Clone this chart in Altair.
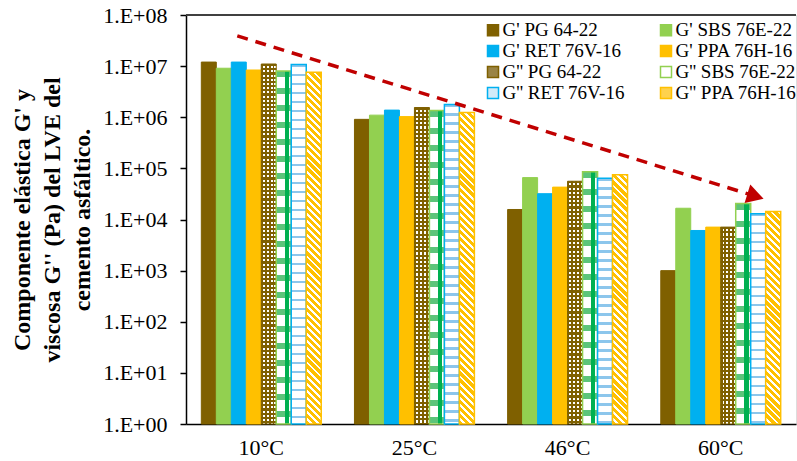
import math
import altair as alt
import pandas as pd

# ---------------- data ----------------
temps = ["10°C", "25°C", "46°C", "60°C"]
series = ["G' PG 64-22", "G' SBS 76E-22", "G' RET 76V-16", "G' PPA 76H-16",
          "G'' PG 64-22", "G'' SBS 76E-22", "G'' RET 76V-16", "G'' PPA 76H-16"]

g1_pg = [1.2e7, 9.1e5, 1.57e4, 1.0e3]
g1_sbs = [9.1e6, 1.1e6, 6.6e4, 1.66e4]
g1_ret = [1.2e7, 1.38e6, 3.2e4, 6.1e3]
g1_ppa = [8.4e6, 1.03e6, 4.3e4, 7.1e3]
g2_pg = [1.1e7, 1.55e6, 5.6e4, 7.1e3]
g2_sbs = [8.0e6, 1.35e6, 8.6e4, 2.05e4]
g2_ret = [1.07e7, 1.78e6, 6.4e4, 1.3e4]
g2_ppa = [7.6e6, 1.24e6, 7.5e4, 1.44e4]
values = [g1_pg, g1_sbs, g1_ret, g1_ppa, g2_pg, g2_sbs, g2_ret, g2_ppa]

y_ticks = [1, 1e1, 1e2, 1e3, 1e4, 1e5, 1e6, 1e7, 1e8]
y_title = ["Componente elástica G' y", "viscosa G'' (Pa) del LVE del", "cemento asfáltico."]

# trend arrow (annotation) : start / end category and value
arrow_start_temp = ["10°C"]
arrow_end_temp = ["60°C"]
arrow_start_value = [3.9e7]
arrow_end_value = [3.0e4]
arrow_head_value = [2.85e4]

# ---------------- styles ----------------
fill_colors = ["#7f6000", "#92d050", "#00b0f0", "#ffc000",
               "#9a8445", "#ffffff", "#d3eaf8", "#ffd24d"]
stroke_colors = ["#7f6000", "#92d050", "#00b0f0", "#ffc000",
                 "#7f6000", "#92d050", "#00b0f0", "#ffc000"]
# legend fills column by column -> order so rows read like the reference
legend_order = [series[k] for k in (0, 2, 4, 6, 1, 3, 5, 7)]
legend_fill = [fill_colors[series.index(s)] for s in legend_order]
legend_stroke = [stroke_colors[series.index(s)] for s in legend_order]

FONT = "Liberation Serif"
W, H = 610, 409
PAD_L, PAD_T = 186, 15
P_IN, P_OUT = 0.217, 0.1
bar_px = W / (len(temps) - P_IN + 2 * P_OUT) * (1 - P_IN) / len(series)

rows = []
for s, vals in zip(series, values):
    for t, v in zip(temps, vals):
        rows.append({"Temp": t, "Serie": s, "Valor": v})
df = pd.DataFrame(rows)

arrow_df = pd.DataFrame({"Temp": arrow_start_temp, "Temp2": arrow_end_temp,
                         "Valor": arrow_start_value, "Valor2": arrow_end_value,
                         "Head": arrow_head_value})
top_df = pd.DataFrame({"Valor": [y_ticks[-1]]})

CLEAR = "rgba(255,255,255,0)"


def stripe_stops(n, c1, c2, frac):
    stops = []
    k = 0
    while k < n:
        a = k / n
        b = min((k + frac) / n, 1.0)
        c = min((k + 1) / n, 1.0)
        stops.append({"offset": round(a, 5), "color": c1})
        stops.append({"offset": round(b, 5), "color": c1})
        if b < 1.0:
            stops.append({"offset": round(b, 5), "color": c2})
            stops.append({"offset": round(c, 5), "color": c2})
        k += 1
    return stops


def grad_v(n, c1, c2, frac):  # horizontal stripes (vary along y)
    return {"gradient": "linear", "x1": 0, "y1": 0, "x2": 0, "y2": 1,
            "stops": stripe_stops(n, c1, c2, frac)}


def grad_h(stops):  # vertical stripes (vary along x)
    return {"gradient": "linear", "x1": 0, "y1": 0, "x2": 1, "y2": 0, "stops": stops}


def grad_diag(h_px, period, c1, c2, frac):
    r = h_px / bar_px
    a = (1 + r) / (1 + r * r)
    n = (bar_px + h_px) / math.sqrt(2) / period
    return {"gradient": "linear", "x1": 0, "y1": 1, "x2": round(a, 6),
            "y2": round(1 - a * r, 6), "stops": stripe_stops(n, c1, c2, frac)}


x_enc = alt.X("Temp:N", scale=alt.Scale(domain=temps, paddingInner=P_IN, paddingOuter=P_OUT),
              axis=alt.Axis(title=None, ticks=False, labelAngle=0, labelFontSize=22,
                            labelPadding=13, domainColor="black", domainWidth=1.5,
                            labelColor="black", labelFont=FONT))
xo_enc = alt.XOffset("Serie:N", scale=alt.Scale(domain=series))
y_enc = alt.Y("Valor:Q", stack=None, scale=alt.Scale(type="log", domain=[1, 1e8]),
              axis=alt.Axis(values=y_ticks, labelExpr="'1.E+0' + round(log(datum.value)/LN10)",
                            title=y_title, titleFont=FONT, titleFontSize=24,
                            titleFontWeight="bold", titleColor="black", titleLineHeight=30,
                            titlePadding=8, labelFont=FONT, labelFontSize=22,
                            labelColor="black", labelPadding=13, tickSize=6,
                            tickColor="black", tickWidth=1.5, domainColor="black",
                            domainWidth=1.5, grid=False))
y2_enc = alt.datum(y_ticks[0])

legend = alt.Legend(title=None, orient="none", legendX=297.5, legendY=5.5, columns=2,
                    symbolType="square", symbolSize=121, symbolStrokeWidth=1.5,
                    labelFont=FONT, labelFontSize=19, labelColor="black", labelLimit=400,
                    rowPadding=1, columnPadding=31, labelOffset=0, padding=0)

base = alt.Chart()

layers = []
# G' solid bars (carry the legend)
layers.append(
    base.transform_filter(alt.FieldOneOfPredicate(field="Serie", oneOf=series[:4]))
    .mark_bar(strokeWidth=1)
    .encode(x=x_enc, xOffset=xo_enc, y=y_enc, y2=y2_enc,
            fill=alt.Fill("Serie:N", scale=alt.Scale(domain=legend_order, range=legend_fill), legend=legend),
            stroke=alt.Stroke("Serie:N", scale=alt.Scale(domain=legend_order, range=legend_stroke), legend=legend))
)

# G'' patterned bars
for j in range(4, 8):
    s = series[j]
    for i, t in enumerate(temps):
        v = values[j][i]
        h_px = math.log10(v) * H / 8
        sub = base.transform_filter(alt.FieldEqualPredicate(field="Serie", equal=s)) \
                  .transform_filter(alt.FieldEqualPredicate(field="Temp", equal=t))
        enc = dict(x=x_enc, xOffset=xo_enc, y=y_enc, y2=y2_enc)
        if j == 4:  # PG: brown / white checker
            g1 = grad_v(h_px / 4.2, "#7f6000", "#ffffff", 0.5)
            g2 = grad_h(stripe_stops(bar_px / 3.75, "#7f6000", CLEAR, 0.5))
            layers.append(sub.mark_bar(fill=g1, strokeWidth=0).encode(**enc))
            layers.append(sub.mark_bar(fill=g2, stroke="#7f6000", strokeWidth=1).encode(**enc))
        elif j == 5:  # SBS: green checker bands + green vertical stripe
            g1 = grad_v(h_px / 17.0, "#5cc47a", "#ffffff", 0.35)
            g2 = grad_h([{"offset": 0, "color": CLEAR}, {"offset": 0.58, "color": CLEAR},
                         {"offset": 0.58, "color": "#00b050"}, {"offset": 0.86, "color": "#00b050"},
                         {"offset": 0.86, "color": CLEAR}, {"offset": 1, "color": CLEAR}])
            layers.append(sub.mark_bar(fill=g1, strokeWidth=0).encode(**enc))
            layers.append(sub.mark_bar(fill=g2, stroke="#92d050", strokeWidth=1.5).encode(**enc))
        elif j == 6:  # RET: light blue waves on white
            g1 = grad_v(h_px / 9.0, "#8cc6ec", "#ffffff", 0.3)
            layers.append(sub.mark_bar(fill=g1, stroke="#00b0f0", strokeWidth=1.5).encode(**enc))
        else:  # PPA: diagonal yellow / white stripes
            g1 = grad_diag(h_px, 5.0, "#ffc000", "#ffffff", 0.6)
            layers.append(sub.mark_bar(fill=g1, stroke="#ffc000", strokeWidth=1.5).encode(**enc))

# top frame line at the axis maximum
layers.append(alt.Chart(top_df).mark_rule(color="#404040", strokeWidth=2).encode(y=alt.Y("Valor:Q")))

# red dashed trend arrow
layers.append(
    alt.Chart(arrow_df).mark_rule(color="#c00000", strokeWidth=3.5, strokeDash=[11, 8], strokeCap="butt")
    .encode(x=alt.X("Temp:N", bandPosition=0.30), x2=alt.X2("Temp2", bandPosition=0.76),
            y=alt.Y("Valor:Q"), y2=alt.Y2("Valor2"))
)
layers.append(
    alt.Chart(arrow_df).mark_point(shape="triangle-right", filled=True, color="#c00000",
                                   opacity=1, size=380, angle=17)
    .encode(x=alt.X("Temp2:N", bandPosition=0.79), y=alt.Y("Head:Q"))
)

chart = alt.layer(*layers, data=df).properties(
    width=W, height=H,
    autosize=alt.AutoSizeParams(type="none"),
    padding={"left": PAD_L, "top": PAD_T, "right": 797 - PAD_L - W, "bottom": 461 - PAD_T - H},
).configure_view(stroke=None).configure(background="white")

chart.save("out.html", embed_options={"renderer": "svg", "actions": False})
